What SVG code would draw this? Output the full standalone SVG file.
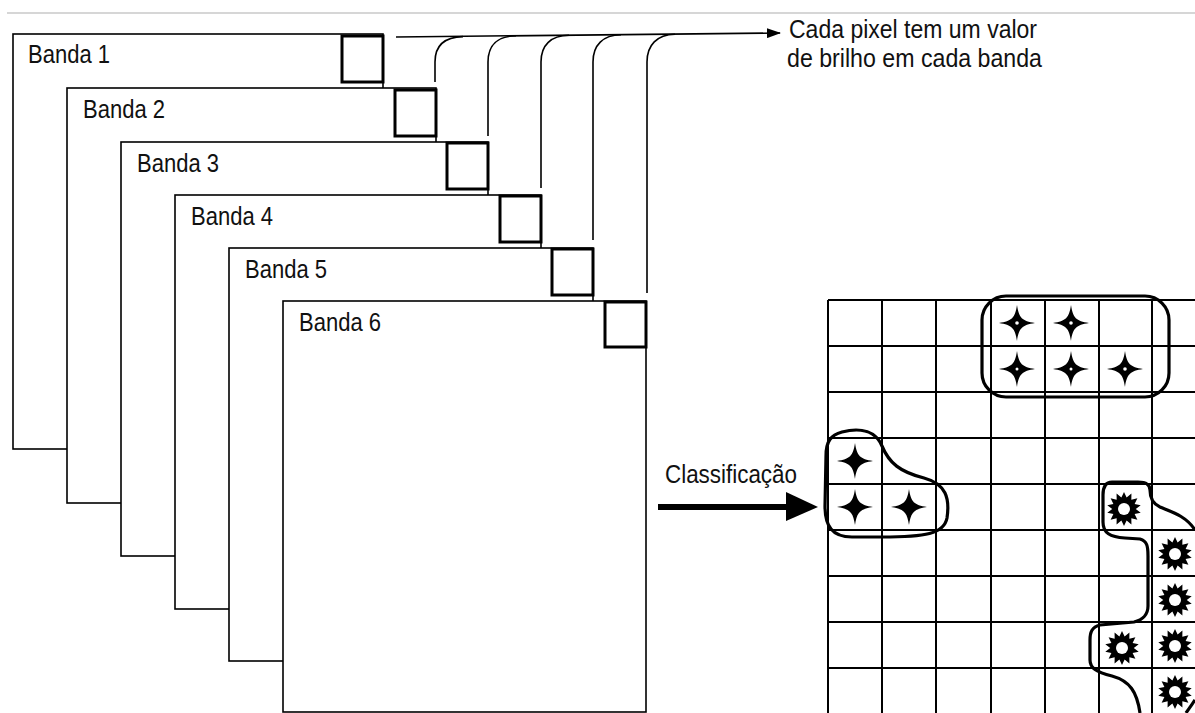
<svg xmlns="http://www.w3.org/2000/svg" xmlns:xlink="http://www.w3.org/1999/xlink" width="1195" height="713" viewBox="0 0 1195 713">
<style>
.band{fill:#fff;stroke:#000;stroke-width:1.6}
.px{fill:#fff;stroke:#000;stroke-width:3}
.lbl{font-family:"Liberation Sans","DejaVu Sans",sans-serif;font-size:25px;fill:#111}
.conn{fill:none;stroke:#000;stroke-width:1.6}
.grid line{stroke:#000;stroke-width:2}
.blob{fill:none;stroke:#000;stroke-width:3.2}
</style>
<defs>
<marker id="ah" viewBox="0 0 14 10" refX="13" refY="5" markerWidth="14" markerHeight="10" markerUnits="userSpaceOnUse" orient="auto">
<path d="M0,0 L14,5 L0,10 Z" fill="#000"/>
</marker>
<path id="star" d="M0,-18 C2,-5 5,-2 18,0 C5,2 2,5 0,18 C-2,5 -5,2 -18,0 C-5,-2 -2,-5 0,-18 Z" fill="#000"/>
<g id="sun">
<polygon transform="scale(1.07)" points="0,-16 2.45,-10.72 6.94,-14.42 6.86,-8.6 12.51,-9.98 9.91,-4.77 15.6,-3.56 11,0 15.6,3.56 9.91,4.77 12.51,9.98 6.86,8.6 6.94,14.42 2.45,10.72 0,16 -2.45,10.72 -6.94,14.42 -6.86,8.6 -12.51,9.98 -9.91,4.77 -15.6,3.56 -11,0 -15.6,-3.56 -9.91,-4.77 -12.51,-9.98 -6.86,-8.6 -6.94,-14.42 -2.45,-10.72" fill="#000"/>
<circle r="6" fill="#fff"/>
</g>
</defs>
<rect width="1195" height="713" fill="#fff"/>
<line x1="7" y1="13" x2="1195" y2="13" stroke="#c8c8c8" stroke-width="1.5"/>

<g id="band1"><rect class="band" x="13" y="34" width="370" height="415"/><rect class="px" x="342" y="36" width="41" height="46"/><text class="lbl" x="28" y="63" textLength="82" lengthAdjust="spacingAndGlyphs">Banda 1</text></g>
<g id="band2"><rect class="band" x="67" y="88" width="369" height="415"/><rect class="px" x="395" y="90" width="41" height="46"/><text class="lbl" x="83" y="118" textLength="82" lengthAdjust="spacingAndGlyphs">Banda 2</text></g>
<g id="band3"><rect class="band" x="121" y="142" width="367" height="414"/><rect class="px" x="447" y="143" width="41" height="46"/><text class="lbl" x="137" y="172" textLength="82" lengthAdjust="spacingAndGlyphs">Banda 3</text></g>
<g id="band4"><rect class="band" x="175" y="195" width="366" height="414"/><rect class="px" x="500" y="196" width="41" height="46"/><text class="lbl" x="191" y="225" textLength="82" lengthAdjust="spacingAndGlyphs">Banda 4</text></g>
<g id="band5"><rect class="band" x="229" y="248" width="364" height="413"/><rect class="px" x="552" y="249" width="41" height="46"/><text class="lbl" x="245" y="278" textLength="82" lengthAdjust="spacingAndGlyphs">Banda 5</text></g>
<g id="band6"><rect class="band" x="283" y="301" width="363" height="411"/><rect class="px" x="605" y="302" width="41" height="45"/><text class="lbl" x="299" y="331" textLength="82" lengthAdjust="spacingAndGlyphs">Banda 6</text></g>

<g id="connectors">
<path class="conn" d="M396,37 L780,33" marker-end="url(#ah)"/>
<path class="conn" d="M435,82 L435,62 C435,45 445,37 463,36.6"/>
<path class="conn" d="M488,136 L488,62 C488,45 498,36 516,35.8"/>
<path class="conn" d="M541,188 L541,62 C541,45 551,35.5 569,35.3"/>
<path class="conn" d="M593,240 L593,62 C593,45 603,35 621,34.8"/>
<path class="conn" d="M647,293 L647,62 C647,45 657,34.5 675,34.2"/>
</g>

<g id="note">
<text class="lbl" x="789" y="38" font-size="23" textLength="248" lengthAdjust="spacingAndGlyphs">Cada pixel tem um valor</text>
<text class="lbl" x="787" y="67" font-size="23" textLength="255" lengthAdjust="spacingAndGlyphs">de brilho em cada banda</text>
</g>

<g id="classificacao">
<text class="lbl" x="665" y="483" textLength="132" lengthAdjust="spacingAndGlyphs">Classificação</text>
<line x1="658" y1="507" x2="790" y2="507" stroke="#000" stroke-width="6"/>
<path d="M786,492 L818,507 L786,521 Z" fill="#000"/>
</g>

<g id="grid" class="grid">
<line x1="828" y1="300" x2="828" y2="713"/>
<line x1="882" y1="300" x2="882" y2="713"/>
<line x1="936" y1="300" x2="936" y2="713"/>
<line x1="991" y1="300" x2="991" y2="713"/>
<line x1="1045" y1="300" x2="1045" y2="713"/>
<line x1="1099" y1="300" x2="1099" y2="713"/>
<line x1="1152" y1="300" x2="1152" y2="713"/>
<line x1="828" y1="300" x2="1195" y2="300"/>
<line x1="828" y1="346" x2="1195" y2="346"/>
<line x1="828" y1="392" x2="1195" y2="392"/>
<line x1="828" y1="438" x2="1195" y2="438"/>
<line x1="828" y1="484" x2="1195" y2="484"/>
<line x1="828" y1="530" x2="1195" y2="530"/>
<line x1="828" y1="576" x2="1195" y2="576"/>
<line x1="828" y1="622" x2="1195" y2="622"/>
<line x1="828" y1="668" x2="1195" y2="668"/>
</g>

<g id="class-top">
<rect class="blob" x="982" y="296" width="187" height="101" rx="24" ry="24"/>
<use xlink:href="#star" href="#star" x="1017" y="323"/>
<use xlink:href="#star" href="#star" x="1071" y="323"/>
<use xlink:href="#star" href="#star" x="1017" y="369"/>
<use xlink:href="#star" href="#star" x="1071" y="369"/>
<use xlink:href="#star" href="#star" x="1125" y="369"/>
<g fill="#fff"><circle cx="1017" cy="323" r="1.8"/><circle cx="1071" cy="323" r="1.8"/><circle cx="1017" cy="369" r="1.5"/><circle cx="1071" cy="369" r="1.5"/><circle cx="1125" cy="369" r="1.8"/></g>
</g>

<g id="class-left">
<path class="blob" d="M842,432 C862,427 876,432 882,446 C889,463 900,472 924,478 C946,484 950,498 947,518 C944,534 925,537 882,537 L852,537 C832,537 825,526 825,506 L826,456 C826,441 831,435 842,432 Z"/>
<use xlink:href="#star" href="#star" x="855" y="461"/>
<use xlink:href="#star" href="#star" x="855" y="507"/>
<use xlink:href="#star" href="#star" x="909" y="507"/>
</g>

<g id="class-sun">
<path class="blob" d="M1195,530 C1186,516 1172,512 1160,507 C1151,503 1150,496 1150,490 C1150,484 1145,482 1138,482 L1112,482 C1105,482 1103,488 1103,495 L1103,522 C1103,533 1110,537 1125,538 L1140,539 C1147,541 1148,546 1148,556 L1148,606 C1148,614 1143,620 1134,622 L1100,625 C1092,627 1090,632 1090,640 L1090,660 C1090,668 1096,672 1112,676 C1130,681 1137,692 1140,713"/>
<path class="blob" d="M1186,713 C1190,707 1193,703 1195,700"/>
<use xlink:href="#sun" href="#sun" x="1124" y="509"/>
<use xlink:href="#sun" href="#sun" x="1175" y="554"/>
<use xlink:href="#sun" href="#sun" x="1175" y="600"/>
<use xlink:href="#sun" href="#sun" x="1175" y="646"/>
<use xlink:href="#sun" href="#sun" x="1122" y="648"/>
<use xlink:href="#sun" href="#sun" x="1175" y="692"/>
</g>
</svg>
